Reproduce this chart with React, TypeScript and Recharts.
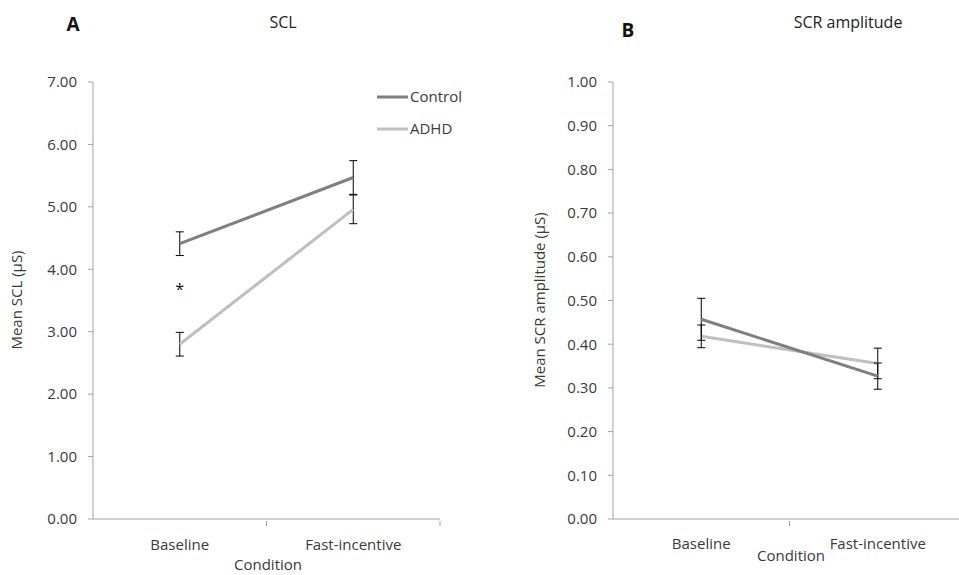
import React from 'react';
import { LineChart, Line, XAxis, YAxis, ErrorBar, ReferenceDot } from 'recharts';

const conditions = ['Baseline', 'Fast-incentive'];

// Panel A: SCL (µS)
const sclControl = [4.41, 5.47];
const sclControlErr = [0.19, 0.27];
const sclAdhd = [2.8, 4.96];
const sclAdhdErr = [0.19, 0.23];
const sclTicks = [0, 1, 2, 3, 4, 5, 6, 7];

// Panel B: SCR amplitude (µS)
const scrControl = [0.457, 0.327];
const scrControlErr = [0.048, 0.03];
const scrAdhd = [0.418, 0.356];
const scrAdhdErr = [0.026, 0.035];
const scrTicks = [0, 0.1, 0.2, 0.3, 0.4, 0.5, 0.6, 0.7, 0.8, 0.9, 1.0];

const seriesNames = ['Control', 'ADHD'];

const FONT = '"Open Sans", "Noto Sans", sans-serif';
const CONTROL = '#7f7f7f';
const ADHD = '#bfbfbf';
const AXIS = '#a3a3a3';
const TEXT = '#3a3a3a';
const FS = 15;

const sclData = conditions.map((c, i) => ({
  condition: c,
  control: sclControl[i],
  controlErr: sclControlErr[i],
  adhd: sclAdhd[i],
  adhdErr: sclAdhdErr[i],
}));

const scrData = conditions.map((c, i) => ({
  condition: c,
  control: scrControl[i],
  controlErr: scrControlErr[i],
  adhd: scrAdhd[i],
  adhdErr: scrAdhdErr[i],
}));

const makeXTick = (bw: number, dy: number) => (props: any) => {
  const { x, y, payload } = props;
  return (
    <g>
      <line x1={x + bw / 2} y1={y} x2={x + bw / 2} y2={y + 5} stroke={AXIS} />
      <text x={x} y={y + dy} textAnchor="middle" fill={TEXT} fontSize={FS} fontFamily={FONT}>
        {payload.value}
      </text>
    </g>
  );
};

const App: React.FC = () => {
  const yTick = { fill: TEXT, fontSize: FS, fontFamily: FONT };
  return (
    <div style={{ position: 'absolute', left: 0, top: 0, width: 959, height: 575, overflow: 'hidden', background: '#fff' }}>
      <div style={{ position: 'absolute', left: 0, top: 0 }}>
        <LineChart width={470} height={575} data={sclData} margin={{ top: 82, right: 30, bottom: 55, left: 92 }}>
          <XAxis
            dataKey="condition"
            scale="band"
            height={1}
            tickLine={false}
            tickSize={0}
            axisLine={{ stroke: AXIS }}
            tick={makeXTick(173.5, 29)}
            interval={0}
          />
          <YAxis
            width={1}
            domain={[0, 7]}
            ticks={sclTicks}
            tickFormatter={(v: number) => v.toFixed(2)}
            tick={yTick}
            tickSize={5}
            tickMargin={11}
            axisLine={{ stroke: AXIS }}
            tickLine={{ stroke: AXIS }}
          />
          <Line dataKey="adhd" name="ADHD" stroke={ADHD} strokeWidth={3} dot={false} isAnimationActive={false}>
            <ErrorBar dataKey="adhdErr" width={4} stroke="#000" strokeWidth={1} />
          </Line>
          <Line dataKey="control" name="Control" stroke={CONTROL} strokeWidth={3} dot={false} isAnimationActive={false}>
            <ErrorBar dataKey="controlErr" width={4} stroke="#000" strokeWidth={1} />
          </Line>
          <ReferenceDot
            x="Baseline"
            y={3.74}
            r={0}
            stroke="none"
            fill="none"
            label={{ value: '*', position: 'center', fill: '#111', fontSize: 16, fontFamily: FONT, dy: 4 }}
          />
        </LineChart>
      </div>

      <div style={{ position: 'absolute', left: 520, top: 0 }}>
        <LineChart width={460} height={575} data={scrData} margin={{ top: 82, right: 14, bottom: 55, left: 92 }}>
          <XAxis
            dataKey="condition"
            scale="band"
            height={1}
            tickLine={false}
            tickSize={0}
            axisLine={{ stroke: AXIS }}
            tick={makeXTick(176.5, 28)}
            interval={0}
          />
          <YAxis
            width={1}
            domain={[0, 1]}
            ticks={scrTicks}
            tickFormatter={(v: number) => v.toFixed(2)}
            tick={yTick}
            tickSize={5}
            tickMargin={11}
            axisLine={{ stroke: AXIS }}
            tickLine={{ stroke: AXIS }}
          />
          <Line dataKey="adhd" name="ADHD" stroke={ADHD} strokeWidth={3} dot={false} isAnimationActive={false}>
            <ErrorBar dataKey="adhdErr" width={4} stroke="#000" strokeWidth={1} />
          </Line>
          <Line dataKey="control" name="Control" stroke={CONTROL} strokeWidth={3} dot={false} isAnimationActive={false}>
            <ErrorBar dataKey="controlErr" width={4} stroke="#000" strokeWidth={1} />
          </Line>
        </LineChart>
      </div>

      <svg width={959} height={575} style={{ position: 'absolute', left: 0, top: 0, pointerEvents: 'none' }}>
        <text x={73} y={31} textAnchor="middle" fontSize={19} fontWeight="bold" fontFamily={FONT} fill="#111">A</text>
        <text x={283} y={28} textAnchor="middle" fontSize={16} fontFamily={FONT} fill="#222">SCL</text>
        <text x={628} y={37} textAnchor="middle" fontSize={19} fontWeight="bold" fontFamily={FONT} fill="#111">B</text>
        <text x={848} y={28} textAnchor="middle" fontSize={16} fontFamily={FONT} fill="#222">SCR amplitude</text>
        <text x={0} y={0} transform="translate(22,300) rotate(-90)" textAnchor="middle" fontSize={FS} fontFamily={FONT} fill={TEXT}>Mean SCL (µS)</text>
        <text x={0} y={0} transform="translate(545,300) rotate(-90)" textAnchor="middle" fontSize={FS} fontFamily={FONT} fill={TEXT}>Mean SCR amplitude (µS)</text>
        <text x={268} y={570} textAnchor="middle" fontSize={FS} fontFamily={FONT} fill={TEXT}>Condition</text>
        <text x={791} y={561} textAnchor="middle" fontSize={FS} fontFamily={FONT} fill={TEXT}>Condition</text>
        {seriesNames.map((name, i) => (
          <g key={name}>
            <line x1={377} y1={97 + i * 32} x2={408} y2={97 + i * 32} stroke={i === 0 ? CONTROL : ADHD} strokeWidth={3} />
            <text x={410} y={102 + i * 32} fill={TEXT} fontSize={FS} fontFamily={FONT}>{name}</text>
          </g>
        ))}
      </svg>
    </div>
  );
};

export default App;
